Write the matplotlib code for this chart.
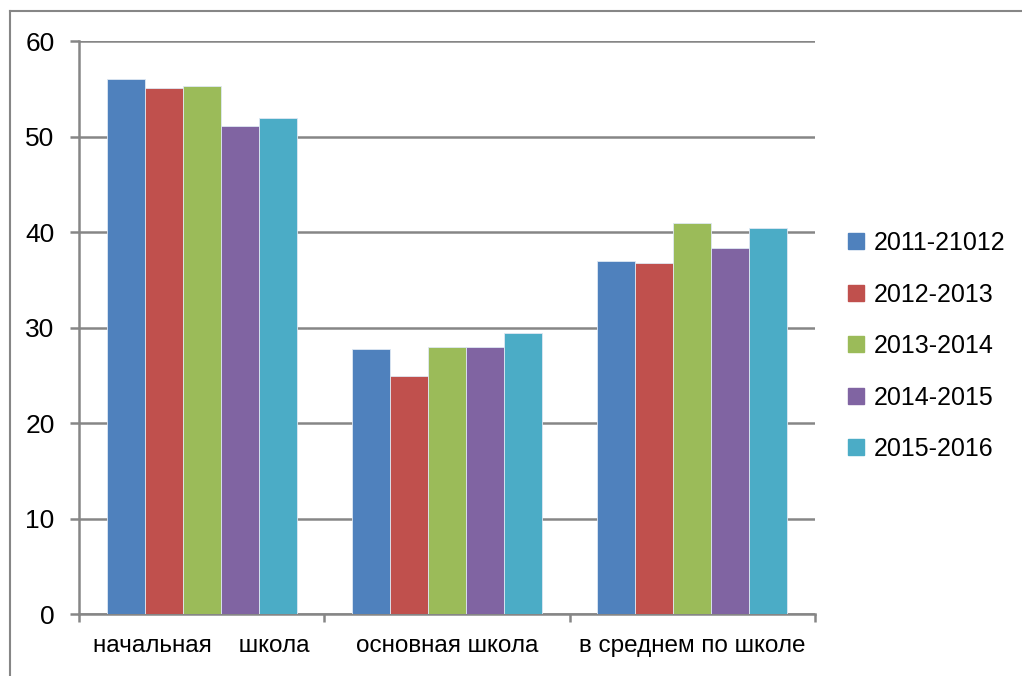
import matplotlib
matplotlib.use("Agg")
import matplotlib.pyplot as plt
import numpy as np
from matplotlib.lines import Line2D

categories = ["начальная    школа", "основная школа", "в среднем по школе"]
series = ["2011-21012", "2012-2013", "2013-2014", "2014-2015", "2015-2016"]
v_2011 = [56.0, 27.8, 37.0]
v_2012 = [55.1, 25.0, 36.8]
v_2013 = [55.3, 28.0, 41.0]
v_2014 = [51.1, 28.0, 38.3]
v_2015 = [51.9, 29.5, 40.4]
colors = ["#4F81BD", "#C0504D", "#9BBB59", "#8064A2", "#4BACC6"]

plt.rcParams['font.family'] = ['Liberation Sans', 'DejaVu Sans']

fig = plt.figure(figsize=(10.22, 6.76), dpi=100)
ax = fig.add_axes([0.0773, 0.091, 0.7202, 0.8483])

x = np.arange(len(categories))
w = 0.155
data = [v_2011, v_2012, v_2013, v_2014, v_2015]
for i, vals in enumerate(data):
    ax.bar(x + (i - 2) * w, vals, w, color=colors[i], edgecolor="#dfe8f3",
           linewidth=0.6, label=series[i], zorder=3)

grey = "#868686"
ax.set_ylim(0, 60)
ax.set_xlim(-0.5, 2.5)
ax.set_yticks(range(0, 61, 10))
ax.yaxis.grid(True, color=grey, linewidth=1.8, zorder=0)
ax.set_axisbelow(True)

ax.set_xticks([-0.5, 0.5, 1.5, 2.5])
ax.set_xticklabels([])
ax.set_xticks(x, minor=True)
ax.set_xticklabels(categories, minor=True, fontsize=17.5)
ax.tick_params(axis='x', which='minor', length=0, pad=15)
ax.tick_params(axis='x', which='major', length=6, width=1.8, color=grey, direction='out')
ax.tick_params(axis='y', length=6.5, width=1.8, color=grey, labelsize=19, pad=11)

for s in ['top', 'right']:
    ax.spines[s].set_visible(False)
for s in ['left', 'bottom']:
    ax.spines[s].set_color(grey)
    ax.spines[s].set_linewidth(1.8)

handles = [Line2D([], [], marker='s', linestyle='none', markersize=11,
                  color=c) for c in colors]
fig.legend(handles, series, loc='center left', bbox_to_anchor=(0.801, 0.488),
           frameon=False, fontsize=18, labelspacing=1.1, handletextpad=0.1,
           handlelength=1.2)

# outer chart frame
fig.add_artist(Line2D([0.0093, 0.0093], [0.0, 0.983], color=grey, linewidth=1.5))
fig.add_artist(Line2D([0.0093, 1.0], [0.983, 0.983], color=grey, linewidth=1.5))

fig.savefig("out.png", dpi=100)
